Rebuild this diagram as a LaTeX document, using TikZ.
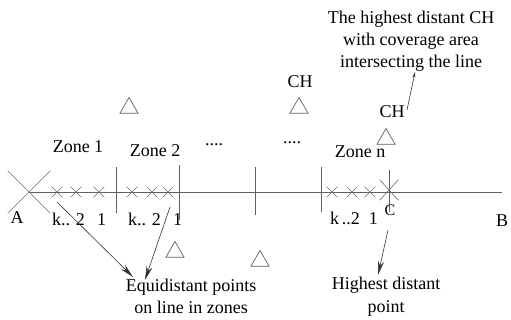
\documentclass[tikz,border=0pt]{standalone}
\usepackage{fontspec}
\setmainfont{Liberation Serif}
\usepackage{tikz}
\usetikzlibrary{positioning,arrows.meta,shapes.geometric,shapes.misc}

\begin{document}
\begin{tikzpicture}[
    x=1pt, y=-1pt,
    lbl/.style={font=\fontsize{18}{22}\selectfont, inner sep=0pt, anchor=base, align=center},
    line/.style={draw=gray!75!black, line width=0.7pt},
    xcross/.style={cross out, draw=gray!85!black, line width=0.6pt, minimum size=10pt, inner sep=0pt},
    ch/.style={regular polygon, regular polygon sides=3, draw=gray!75!black,
        line width=0.7pt, minimum size=21pt, inner sep=0pt},
    arrow/.style={-{Stealth[length=14pt,width=6pt]}, line width=0.6pt, black!80}
]
\useasboundingbox (0,0) rectangle (511,320);

% the line from A to B
\coordinate (A0) at (30,192);
\coordinate (B0) at (502,192);
\draw[line] (A0) -- (B0);

% zone borders
\foreach \x/\t/\b in {116/167/213, 179/165/220, 255/167/215, 321/167/212, 389/170/212}
    \draw[line] (\x,\t) -- (\x,\b);

% points in the zones
\foreach \x [count=\i] in {57,76,99,132,152,168,332,352,370}
    \node[xcross] (p\i) at (\x,192) {};
\node[xcross, minimum width=42pt, minimum height=42pt] (a) at (29,192) {};
\node[xcross, minimum width=18pt, minimum height=20pt] (c) at (389,190) {};

% cluster heads
\node[ch] (ch1) at (129,108) {};
\node[ch] (ch2) at (175,252) {};
\node[ch] (ch3) at (260,261) {};
\node[ch] (ch4) at (299,108) {};
\node[ch] (ch5) at (386,139) {};

% labels
\node[lbl] (zone1) at (78,153) {Zone 1};
\node[lbl] (zone2) at (155,157) {Zone 2};
\node[lbl] (dots1) at (214,146) {....};
\node[lbl] (dots2) at (292,144) {....};
\node[lbl] (zonen) at (360,158) {Zone n};
\node[lbl] (la) at (17,224) {A};
\node[lbl] (lb) at (502,227) {B};
\node[lbl, font=\fontsize{16}{20}\selectfont] (lc) at (390,216) {C};
\node[lbl] (k1) at (79,226) {k..\,\,2\,\,\,\,1};
\node[lbl] (k2) at (155,226) {k..\,\,2\,\,\,\,1};
\node[lbl] (kn) at (354,225) {k\,..2\,\,\,1};
\node[lbl] (lch1) at (300,88) {CH};
\node[lbl] (lch2) at (392,118) {CH};
\node[lbl] (top) at (411,68) {The highest distant CH\\with coverage area\\intersecting the line};
\node[lbl] (equi) at (191,313) {Equidistant points\\on line in zones};
\node[lbl] (high) at (386,312) {Highest distant\\point};

% arrows
\coordinate (s1) at (57,202);
\coordinate (t1) at (133,277);
\coordinate (s2) at (170,207);
\coordinate (t2) at (145,280);
\coordinate (s3) at (388,230);
\coordinate (t3) at (378,275);
\coordinate (s4) at (407,110);
\coordinate (t4) at (415,72);
\draw[arrow] (s1) -- (t1);
\draw[arrow] (s2) -- (t2);
\draw[arrow] (s3) -- (t3);
\draw[arrow, -{Stealth[length=6pt,width=3pt]}] (s4) -- (t4);
\end{tikzpicture}
\end{document}
